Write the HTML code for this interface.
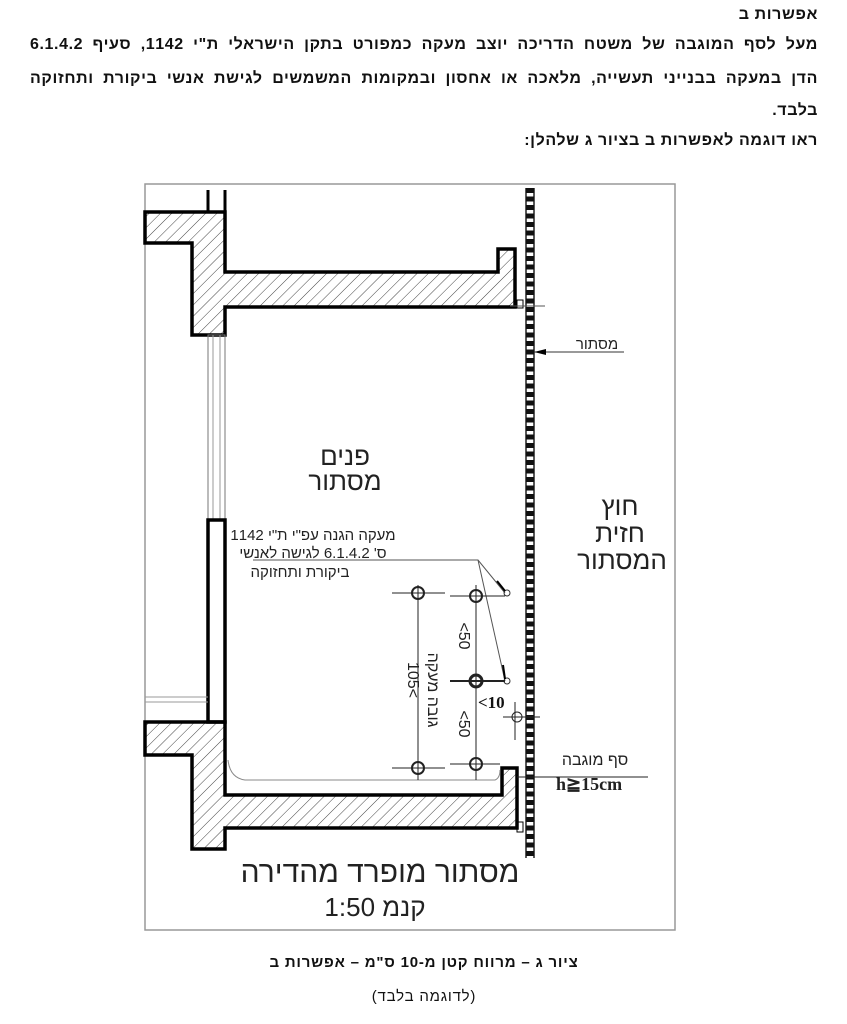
<!DOCTYPE html>
<html><head><meta charset="utf-8"><style>
html,body{margin:0;padding:0;background:#fff;}
body{width:847px;height:1024px;position:relative;overflow:hidden;font-family:"Liberation Sans","Noto Sans CJK SC",sans-serif;}
.t{position:absolute;right:29px;direction:rtl;font-size:16px;letter-spacing:0.6px;color:#111;white-space:nowrap;font-weight:bold;}
.j{width:788px;text-align:justify;text-align-last:justify;white-space:normal;}
</style></head><body>
<div class="t" style="top:6px;">אפשרות ב</div>
<div class="t j" style="top:36px;">מעל לסף המוגבה של משטח הדריכה יוצב מעקה כמפורט בתקן הישראלי ת"י 1142, סעיף 6.1.4.2</div>
<div class="t j" style="top:70px;">הדן במעקה בבנייני תעשייה, מלאכה או אחסון ובמקומות המשמשים לגישת אנשי ביקורת ותחזוקה</div>
<div class="t" style="top:102px;">בלבד.</div>
<div class="t" style="top:132px;">ראו דוגמה לאפשרות ב בציור ג שלהלן:</div>

<svg width="847" height="1024" style="position:absolute;left:0;top:0" xmlns="http://www.w3.org/2000/svg">
<defs>
<pattern id="h" width="8" height="8" patternUnits="userSpaceOnUse" patternTransform="rotate(45)">
<line x1="0" y1="0" x2="0" y2="8" stroke="#444" stroke-width="1"/>
</pattern>
</defs>
<rect x="145" y="184" width="530" height="746" fill="none" stroke="#999" stroke-width="1.5"/>
<line x1="208" y1="190" x2="208" y2="212" stroke="#000" stroke-width="3"/>
<line x1="225" y1="190" x2="225" y2="212" stroke="#000" stroke-width="3"/>
<polygon points="145,212 225,212 225,272 498,272 498,249 515,249 515,307 225,307 225,335 192,335 192,243 145,243" fill="url(#h)" stroke="#000" stroke-width="3.5"/>
<rect x="208" y="335" width="17" height="185" fill="none" stroke="#777" stroke-width="1"/>
<line x1="213" y1="335" x2="213" y2="520" stroke="#999"/>
<line x1="220" y1="335" x2="220" y2="520" stroke="#999"/>
<rect x="208" y="520" width="17" height="202" fill="none" stroke="#000" stroke-width="3.5"/>
<line x1="145" y1="697" x2="208" y2="697" stroke="#999"/>
<line x1="145" y1="702" x2="208" y2="702" stroke="#999"/>
<polygon points="145,722 225,722 225,795 502,795 502,768 517,768 517,828 225,828 225,849 192,849 192,755 145,755" fill="url(#h)" stroke="#000" stroke-width="3.5"/>
<path d="M228,760 Q230,778 245,780 L495,780 Q500,778 500,770" fill="none" stroke="#888" stroke-width="1"/>
<line x1="526" y1="188" x2="526" y2="858" stroke="#222" stroke-width="1.5"/>
<line x1="534" y1="188" x2="534" y2="858" stroke="#222" stroke-width="1.5"/>
<line x1="530" y1="188" x2="530" y2="858" stroke="#111" stroke-width="8" stroke-dasharray="5 3.5"/>
<rect x="517" y="300" width="6" height="8" fill="none" stroke="#000"/>
<line x1="510" y1="306" x2="545" y2="306" stroke="#555"/>
<rect x="517" y="822" width="6" height="10" fill="none" stroke="#000"/>
<line x1="534" y1="352" x2="624" y2="352" stroke="#333"/>
<polygon points="534,352 546,349 546,355" fill="#000"/>
<text x="597" y="349" font-size="15" text-anchor="middle" fill="#222" font-family="Liberation Sans,Noto Sans CJK SC,sans-serif">מסתור</text>
<g font-family="Liberation Sans,Noto Sans CJK SC,sans-serif" fill="#222" text-anchor="middle">
<text x="345" y="465" font-size="26">פנים</text>
<text x="345" y="490" font-size="26">מסתור</text>
<text x="620" y="515" font-size="26">חוץ</text>
<text x="620" y="542" font-size="26">חזית</text>
<text x="622" y="569" font-size="26">המסתור</text>
<text x="313" y="540" font-size="15">מעקה הגנה עפ"י ת"י 1142</text>
<text x="313" y="558" font-size="15">ס' 6.1.4.2 לגישה לאנשי</text>
<text x="300" y="577" font-size="15">ביקורת ותחזוקה</text>
<text x="380" y="882" font-size="30">מסתור מופרד מהדירה</text>
<text x="375" y="916" font-size="26">קנמ 1:50</text>
<text x="595" y="765" font-size="16">סף מוגבה</text>
</g>
<text x="556" y="790" font-size="18" font-weight="bold" font-family="Liberation Serif,serif" fill="#222">h≧15cm</text>
<text x="478" y="708" font-size="17" font-weight="bold" font-family="Liberation Serif,serif" fill="#111">&lt;10</text>
<polyline points="253,560 478,560 505,593" fill="none" stroke="#555"/>
<polyline points="478,560 505,681" fill="none" stroke="#555"/>
<circle cx="507" cy="593" r="3" fill="none" stroke="#333"/>
<circle cx="507" cy="681" r="3" fill="none" stroke="#333"/>
<line x1="497" y1="581" x2="505" y2="591" stroke="#000" stroke-width="2"/>
<line x1="503" y1="665" x2="505" y2="679" stroke="#000" stroke-width="2"/>
<g stroke="#222" fill="none">
<line x1="418" y1="585" x2="418" y2="780"/>
<line x1="476" y1="585" x2="476" y2="780"/>
<line x1="392" y1="593" x2="445" y2="593"/>
<line x1="450" y1="596" x2="505" y2="596"/>
<line x1="450" y1="681" x2="505" y2="681" stroke-width="2"/>
<line x1="392" y1="768" x2="445" y2="768"/>
<line x1="450" y1="764" x2="500" y2="764"/>
<circle cx="418" cy="593" r="6" stroke-width="2"/>
<circle cx="476" cy="596" r="6" stroke-width="2"/>
<circle cx="476" cy="681" r="6" stroke-width="3"/>
<circle cx="418" cy="768" r="6" stroke-width="2"/>
<circle cx="476" cy="764" r="6" stroke-width="2"/>
<line x1="517" y1="777" x2="648" y2="777"/>
<line x1="515" y1="702" x2="515" y2="740"/>
<line x1="503" y1="717" x2="540" y2="717"/>
<circle cx="517" cy="717" r="5"/>
</g>
<g font-family="Liberation Sans,Noto Sans CJK SC,sans-serif" fill="#222" font-size="16" text-anchor="middle">
<text transform="translate(408,680) rotate(90)">105&lt;</text>
<text transform="translate(428,690) rotate(90)">גובה מעקה</text>
<text transform="translate(459,636) rotate(90)">&lt;50</text>
<text transform="translate(459,724) rotate(90)">&lt;50</text>
</g>
<g font-family="Liberation Sans,Noto Sans CJK SC,sans-serif" fill="#111" text-anchor="middle" font-weight="bold" letter-spacing="0.8">
<text x="424" y="967" font-size="15" direction="rtl">ציור ג – מרווח קטן מ-10 ס"מ – אפשרות ב</text>
<text x="424" y="1001" font-size="15" font-weight="normal" direction="rtl">(לדוגמה בלבד)</text>
</g>
</svg>
</body></html>
